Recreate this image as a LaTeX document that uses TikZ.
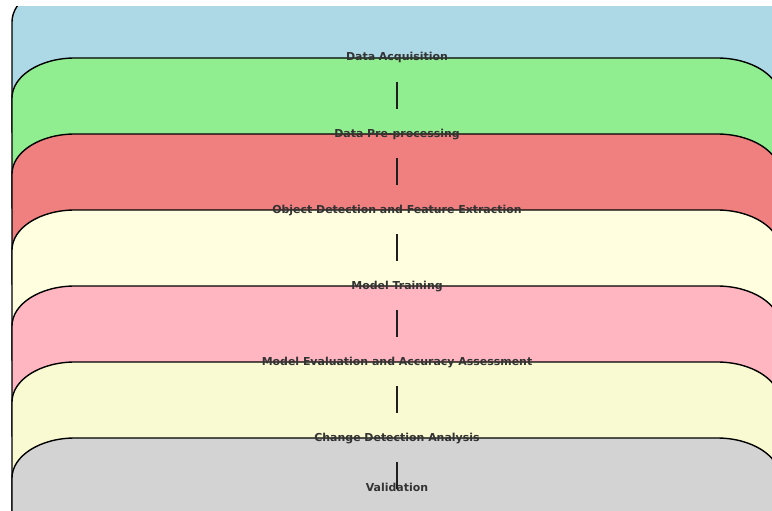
\documentclass[tikz,border=0pt]{standalone}
\usepackage{fontspec}
\setmainfont{DejaVu Sans}
\usetikzlibrary{positioning}

\definecolor{acqblue}{RGB}{173,216,230}
\definecolor{pregreen}{RGB}{144,238,144}
\definecolor{detcoral}{RGB}{240,128,128}
\definecolor{trainyellow}{RGB}{255,255,224}
\definecolor{evalpink}{RGB}{255,182,193}
\definecolor{changegold}{RGB}{250,250,210}
\definecolor{validgrey}{RGB}{211,211,211}
\definecolor{labelgrey}{RGB}{51,51,51}

% one stage box: #1 top edge, #2 fill colour
\newcommand{\stagebox}[2]{%
  \filldraw[fill=#2, draw=black, line width=1.4pt]
    (12,#1+150) -- (12,#1+40)
    .. controls (12,#1+17.9) and (40.2,#1) .. (75,#1)
    -- (717,#1)
    .. controls (751.8,#1) and (780,#1+17.9) .. (780,#1+40)
    -- (780,#1+150) -- cycle;}

\begin{document}
\begin{tikzpicture}[
    x=1pt, y=-1pt,
    stage label/.style={anchor=base, inner sep=0pt, text=labelgrey,
      font=\bfseries\fontsize{10.95}{12}\selectfont},
    link/.style={line width=1.5pt, draw=black!88}
  ]
  \useasboundingbox (0,0) rectangle (772,511);
  \clip (0,7) rectangle (772,511);

  % Boxes
  \stagebox{-18}{acqblue}
  \stagebox{58}{pregreen}
  \stagebox{134}{detcoral}
  \stagebox{210}{trainyellow}
  \stagebox{286}{evalpink}
  \stagebox{362}{changegold}
  \stagebox{438}{validgrey}

  % Labels
  \node[stage label] (acq)    at (397,61)  {Data Acquisition};
  \node[stage label] (pre)    at (397,137) {Data Pre-processing};
  \node[stage label] (det)    at (397,213) {Object Detection and Feature Extraction};
  \node[stage label] (train)  at (397,289) {Model Training};
  \node[stage label] (eval)   at (397,365) {Model Evaluation and Accuracy Assessment};
  \node[stage label] (change) at (397,441) {Change Detection Analysis};
  \node[stage label] (valid)  at (397,491) {Validation};

  % Link ends
  \coordinate (acq-out)    at (397,82);
  \coordinate (pre-in)     at (397,109);
  \coordinate (pre-out)    at (397,158);
  \coordinate (det-in)     at (397,185);
  \coordinate (det-out)    at (397,234);
  \coordinate (train-in)   at (397,261);
  \coordinate (train-out)  at (397,310);
  \coordinate (eval-in)    at (397,337);
  \coordinate (eval-out)   at (397,386);
  \coordinate (change-in)  at (397,413);
  \coordinate (change-out) at (397,462);
  \coordinate (valid-in)   at (397,489);

  % Links
  \draw[link] (acq-out) -- (pre-in);
  \draw[link] (pre-out) -- (det-in);
  \draw[link] (det-out) -- (train-in);
  \draw[link] (train-out) -- (eval-in);
  \draw[link] (eval-out) -- (change-in);
  \draw[link] (change-out) -- (valid-in);
\end{tikzpicture}
\end{document}
